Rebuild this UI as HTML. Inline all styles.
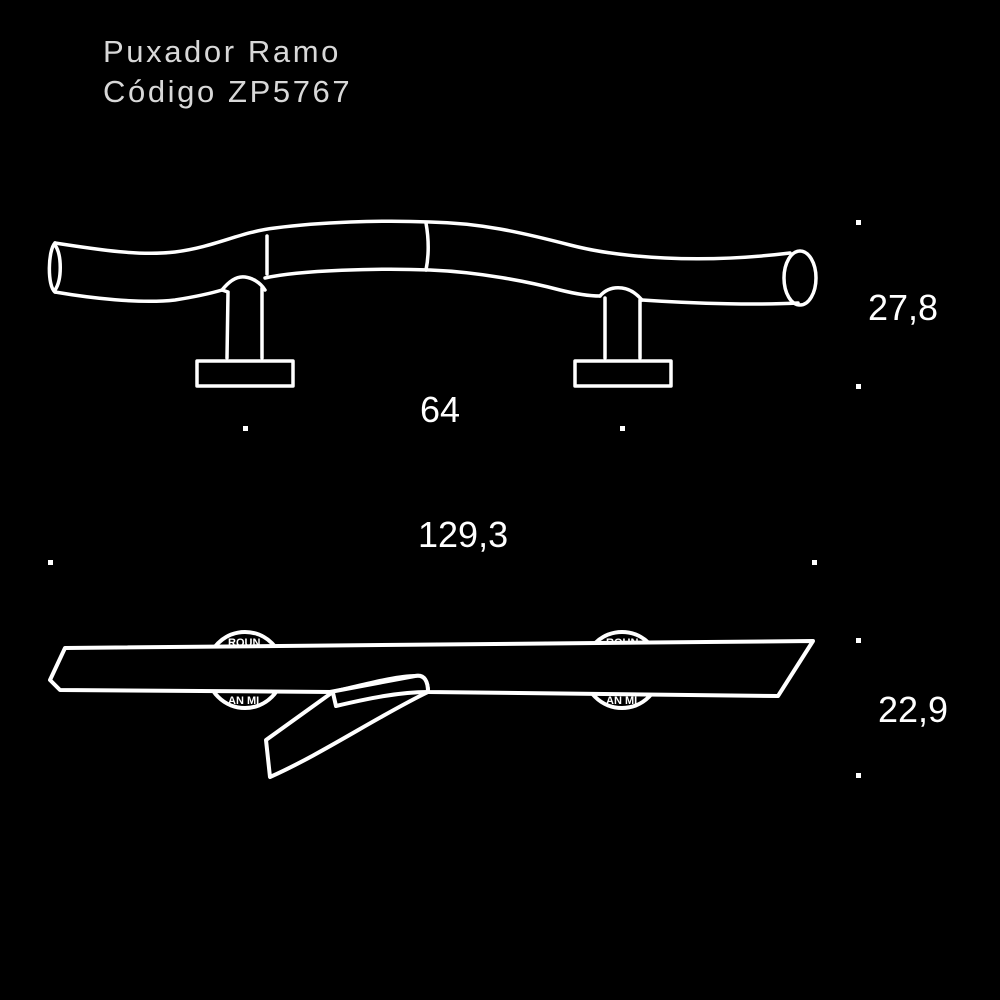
<!DOCTYPE html>
<html><head><meta charset="utf-8"><style>
html,body{margin:0;padding:0;background:#000;}
svg{display:block}
</style></head><body>
<svg width="1000" height="1000" viewBox="0 0 1000 1000" xmlns="http://www.w3.org/2000/svg">
<rect width="1000" height="1000" fill="#000"/>
<g font-family="Liberation Sans, sans-serif" fill="#d8d8d8" font-size="31" letter-spacing="2.6">
<text x="103" y="62">Puxador Ramo</text>
<text x="103" y="102">Código ZP5767</text>
</g>
<g font-family="Liberation Sans, sans-serif" fill="#fff" font-size="36">
<text x="868" y="320">27,8</text>
<text x="420" y="422">64</text>
<text x="418" y="547">129,3</text>
<text x="878" y="722">22,9</text>
</g>
<g fill="#fff">
<rect x="856" y="220" width="5" height="5"/>
<rect x="856" y="384" width="5" height="5"/>
<rect x="243" y="426" width="5" height="5"/>
<rect x="620" y="426" width="5" height="5"/>
<rect x="48" y="560" width="5" height="5"/>
<rect x="812" y="560" width="5" height="5"/>
<rect x="856" y="638" width="5" height="5"/>
<rect x="856" y="773" width="5" height="5"/>
</g>
<g fill="none" stroke="#fff" stroke-width="3.5" stroke-linejoin="round" stroke-linecap="round">
<!-- top view -->
<path d="M55,243 C100,250 140,256 175,252 C215,247 240,232 275,228 C320,222 380,220 430,222 C480,223 520,232 570,245 C620,258 700,264 790,253"/>
<path d="M55,292 C90,298 140,304 175,300 C200,296 212,293 222,290 M265,278 C300,270 380,268 430,270 C480,272 530,282 560,290 C580,295 592,296 600,296 M642,300 C700,304 760,305 798,303"/>
<path d="M55,243 C48,250 47,286 55,292"/>
<path d="M55,245 C62,255 62,280 55,290"/>
<ellipse cx="800" cy="278" rx="16" ry="27"/>
<path d="M267,236 L267,274"/>
<path d="M426,223 C429,240 429,255 426,270"/>
<path d="M222,290 C230,280 238,276 245,277 C252,278 260,282 265,290 M228,292 L227,358 M262,288 L262,358 M222,290 L228,292"/>
<path d="M600,296 C606,289 614,287 622,288 C630,289 636,293 642,300 M605,298 L605,358 M640,300 L640,358"/>
<rect x="197" y="361" width="96" height="25"/>
<rect x="575" y="361" width="96" height="25"/>
<!-- bottom view discs -->
<circle cx="245" cy="670" r="38" stroke-width="4"/>
<circle cx="622" cy="670" r="38" stroke-width="4"/>
</g>
<g font-family="Liberation Sans, sans-serif" font-weight="bold" font-size="11" fill="#fff">
<text x="228" y="646">ROUN</text><text x="606" y="646">ROUN</text>
<text x="228" y="704">AN MI</text><text x="606" y="704">AN MI</text>
</g>
<g fill="#000" stroke="#fff" stroke-width="4" stroke-linejoin="round">
<path d="M65,648 L813,641 L778,696 L428,692 C428,682 425,676 415,676 C395,676 360,686 332,692 L60,690 L50,680 Z"/>
<path d="M330,692 L415,676 C425,674 428,682 428,692 C380,715 320,755 270,777 L266,740 L330,694 Z"/>
<path d="M333,693 L336,706 C370,698 400,692 428,692" fill="none"/>
</g>
</svg>
</body></html>
